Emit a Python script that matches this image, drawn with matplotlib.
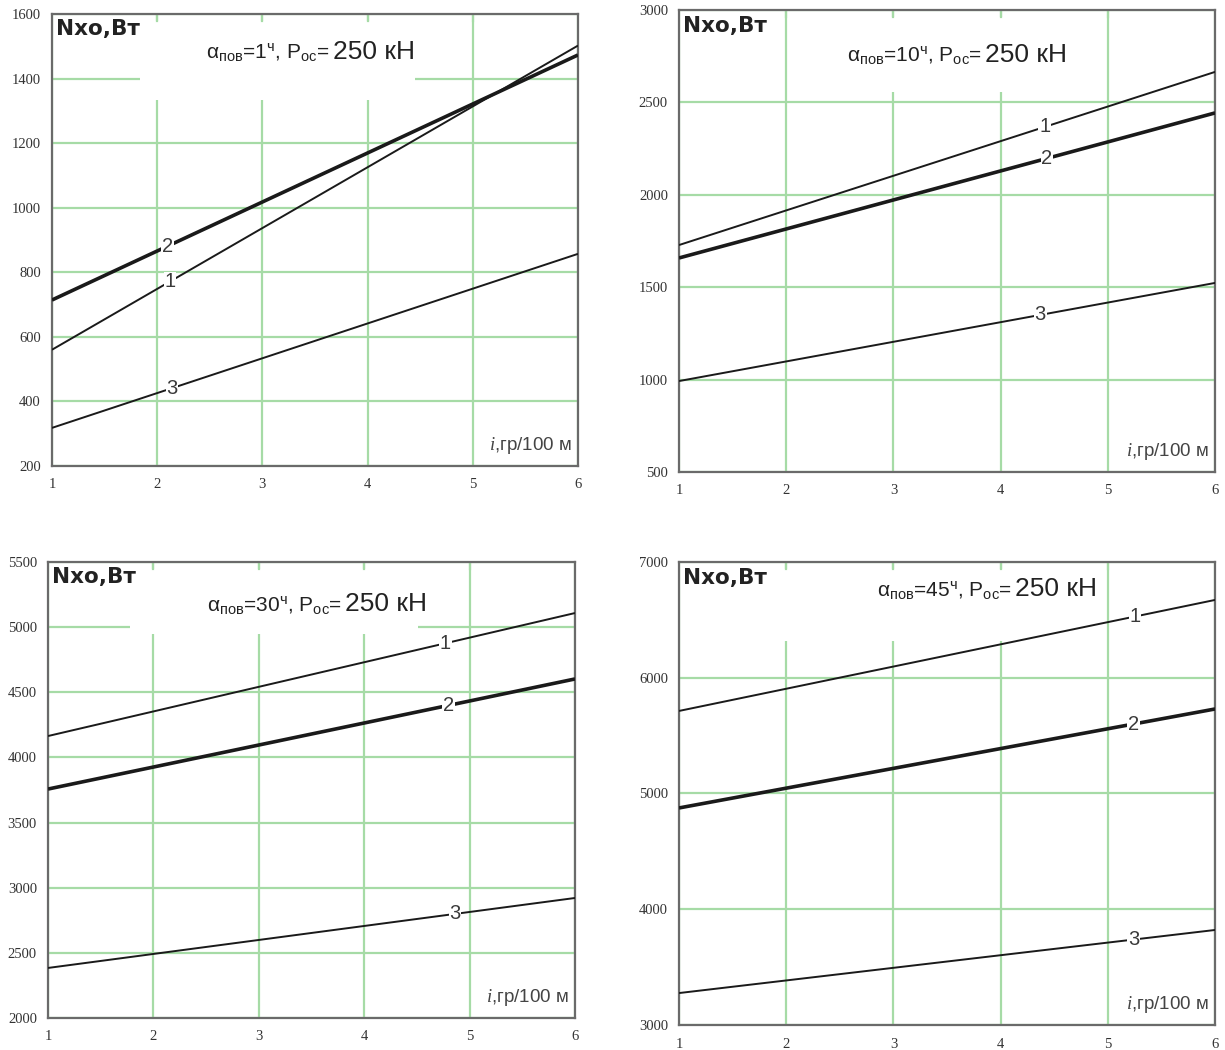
import matplotlib.pyplot as plt
from matplotlib.patches import Rectangle
from matplotlib.transforms import blended_transform_factory
import numpy as np

plt.rcParams['font.family'] = ['Liberation Sans', 'DejaVu Sans']
plt.rcParams['mathtext.fontset'] = 'custom'
plt.rcParams['mathtext.rm'] = 'Liberation Sans'
plt.rcParams['mathtext.it'] = 'Liberation Serif:italic'
plt.rcParams['mathtext.bf'] = 'Liberation Sans:bold'

# data
i_vals = [1, 6]
angles = ["1", "10", "30", "45"]
y_limits = [(200, 1600, 200), (500, 3000, 500), (2000, 5500, 500), (3000, 7000, 1000)]
n_line1 = [[560, 1502], [1728, 2665], [4164, 5108], [5713, 6672]]
n_line2 = [[714, 1473], [1658, 2443], [3757, 4602], [4875, 5730]]
n_line3 = [[318, 857], [992, 1523], [2384, 2921], [3276, 3821]]
line_names = ["1", "2", "3"]

# layout
axes_pos = [[0.0424, 0.5562, 0.4294, 0.4305],
            [0.5543, 0.5505, 0.4376, 0.4400],
            [0.0392, 0.0305, 0.4302, 0.4343],
            [0.5543, 0.0238, 0.4376, 0.4410]]
label_x = [[2.12, 2.10, 2.14], [4.41, 4.43, 4.37], [4.77, 4.80, 4.86], [5.25, 5.24, 5.24]]
title_xy = [(0.293, 0.90), (0.313, 0.887), (0.302, 0.892), (0.369, 0.926)]
boxes = [(0.167, 0.81, 0.523, 0.175), (0.226, 0.822, 0.56, 0.163),
         (0.156, 0.842, 0.546, 0.143), (0.188, 0.829, 0.597, 0.156)]

grid_c = '#a6dba6'
frame_c = '#6a6a6a'
text_c = '#333333'

fig = plt.figure(figsize=(12.25, 10.5), dpi=100)
renderer = fig.canvas.get_renderer()

for k in range(4):
    ax = fig.add_axes(axes_pos[k])
    lo, hi, step = y_limits[k]
    ax.set_xlim(1, 6)
    ax.set_ylim(lo, hi)
    ax.set_xticks(range(1, 7))
    ax.set_yticks(np.arange(lo, hi + 1, step))
    ax.set_axisbelow(True)
    ax.grid(color=grid_c, linewidth=1.6)
    ax.tick_params(length=0, labelsize=10.5, labelcolor=text_c, pad=9)
    ax.tick_params(axis='y', pad=8)
    for lab in ax.get_xticklabels() + ax.get_yticklabels():
        lab.set_fontfamily('Liberation Serif')
    for sp in ax.spines.values():
        sp.set_color(frame_c)
        sp.set_linewidth(1.6)

    # blank area behind the caption
    bx, by, bw, bh = boxes[k]
    ax.add_patch(Rectangle((bx, by), bw, bh, transform=ax.transAxes,
                           facecolor='white', edgecolor='none', zorder=1))
    tr = blended_transform_factory(ax.transData, ax.transAxes)
    for x in range(2, 6):
        ax.plot([x, x], [1, 0.985], transform=tr, color=grid_c, lw=1.6, zorder=1.5)

    series = [n_line1[k], n_line2[k], n_line3[k]]
    widths = [1.4, 2.6, 1.4]
    for s, w, name, lx in zip(series, widths, line_names, label_x[k]):
        ax.plot(i_vals, s, color='#1a1a1a', lw=w, zorder=3, solid_capstyle='butt')
        ly = np.interp(lx, i_vals, s)
        ax.text(lx, ly, name, fontsize=14.5, color='#3a3a3a', ha='center', va='center',
                zorder=4, bbox=dict(facecolor='white', edgecolor='none', pad=0.5))

    ax.text(0.008, 0.988, "Nxo,Вт", transform=ax.transAxes, fontsize=15.5,
            fontweight='bold', color='#222222', ha='left', va='top', zorder=4,
            fontfamily='DejaVu Sans',
            bbox=dict(facecolor='white', edgecolor='none', pad=1))

    tx, ty = title_xy[k]
    t1 = ax.text(tx, ty,
                 "α$_{\\mathrm{пов}}$=" + angles[k] + "$^{\\mathrm{ч}}$, P$_{\\mathrm{ос}}$= ",
                 transform=ax.transAxes, fontsize=15, color='#222222',
                 ha='left', va='baseline', zorder=4)
    bb = t1.get_window_extent(renderer)
    x_end = ax.transAxes.inverted().transform((bb.x1, bb.y0))[0]
    ax.text(x_end + 0.004, ty, "250 кН", transform=ax.transAxes, fontsize=19,
            color='#222222', ha='left', va='baseline', zorder=4)

    ax.text(0.988, 0.022, "$i$,гр/100 м", transform=ax.transAxes, fontsize=13.5,
            color='#444444', ha='right', va='bottom', zorder=4)

fig.savefig("out.png", dpi=100)
